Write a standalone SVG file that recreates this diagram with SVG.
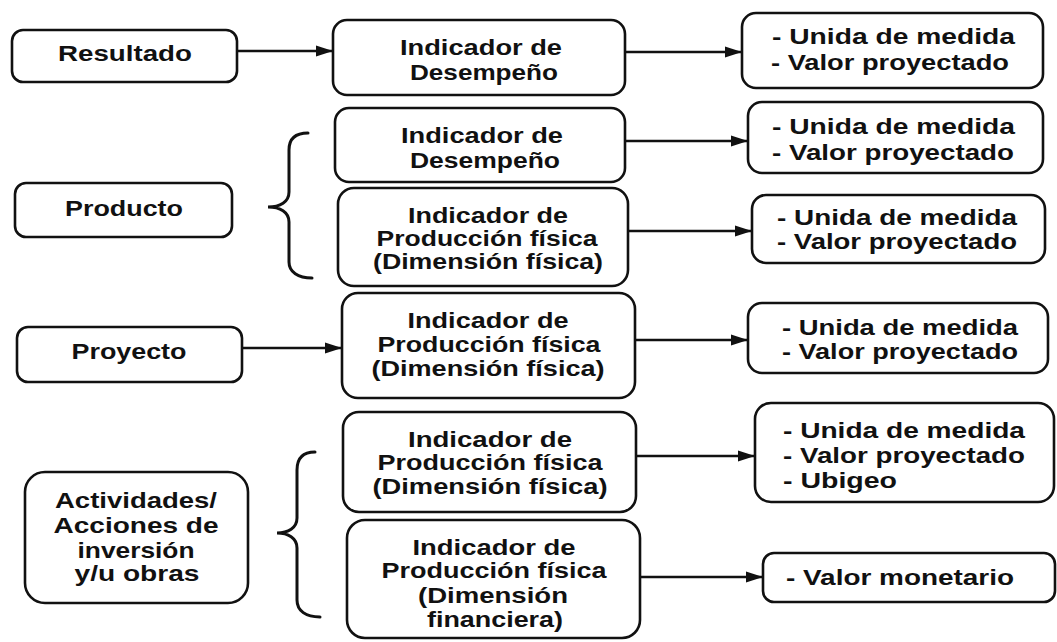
<svg xmlns="http://www.w3.org/2000/svg" width="1057" height="642" viewBox="0 0 1057 642">
<style>
.box{fill:#fff;stroke:#111;stroke-width:2.6}
.t{font-family:"Liberation Sans",Arial,sans-serif;font-weight:bold;font-size:22px;fill:#111}
.c{text-anchor:middle}
.ln{stroke:#111;stroke-width:2.4;fill:none}
.br{stroke:#111;stroke-width:3;fill:none;stroke-linecap:round}
</style>
<defs>
<marker id="ah" markerUnits="userSpaceOnUse" markerWidth="18" markerHeight="13" refX="17" refY="6.5" orient="auto">
<path d="M0,1 L17,6.5 L0,12 Z" fill="#111"/>
</marker>
</defs>
<rect width="1057" height="642" fill="#fff"/>

<g id="connectors">
<line class="ln" x1="237" y1="51" x2="333" y2="51" marker-end="url(#ah)"/>
<line class="ln" x1="625" y1="52" x2="742" y2="52" marker-end="url(#ah)"/>
<line class="ln" x1="625" y1="141" x2="748" y2="141" marker-end="url(#ah)"/>
<line class="ln" x1="628" y1="231" x2="752" y2="231" marker-end="url(#ah)"/>
<line class="ln" x1="242" y1="348" x2="342" y2="348" marker-end="url(#ah)"/>
<line class="ln" x1="635" y1="340" x2="748" y2="340" marker-end="url(#ah)"/>
<line class="ln" x1="636" y1="456" x2="755" y2="456" marker-end="url(#ah)"/>
<line class="ln" x1="640" y1="577" x2="763" y2="577" marker-end="url(#ah)"/>
<path class="br" d="M308,133 C296,133 289,138 289,150 L289,192 C289,202 280,207 268,207 C280,207 289,212 289,222 L289,262 C289,272 298,278 312,278"/>
<path class="br" d="M315,452 C303,452 297,458 297,470 L297,518 C297,528 288,533 277,533 C288,533 297,538 297,548 L297,600 C297,611 306,617 320,617"/>
</g>

<g id="resultado">
<rect class="box" x="12" y="30" width="225" height="52" rx="11"/>
<text class="t c" x="125" y="61" textLength="134" lengthAdjust="spacingAndGlyphs">Resultado</text>
</g>
<g id="producto">
<rect class="box" x="15" y="183" width="217" height="54" rx="11"/>
<text class="t c" x="124" y="216" textLength="118" lengthAdjust="spacingAndGlyphs">Producto</text>
</g>
<g id="proyecto">
<rect class="box" x="17" y="327" width="225" height="55" rx="11"/>
<text class="t c" x="129" y="359" textLength="115" lengthAdjust="spacingAndGlyphs">Proyecto</text>
</g>
<g id="actividades">
<rect class="box" x="25" y="472" width="223" height="131" rx="20"/>
<text class="t c" x="136" y="508" textLength="162" lengthAdjust="spacingAndGlyphs">Actividades/</text>
<text class="t c" x="136" y="533" textLength="165" lengthAdjust="spacingAndGlyphs">Acciones de</text>
<text class="t c" x="136" y="558" textLength="117" lengthAdjust="spacingAndGlyphs">inversión</text>
<text class="t c" x="137" y="581" textLength="125" lengthAdjust="spacingAndGlyphs">y/u obras</text>
</g>

<g id="ind1">
<rect class="box" x="333" y="20" width="292" height="75" rx="14"/>
<text class="t c" x="481" y="55" textLength="162" lengthAdjust="spacingAndGlyphs">Indicador de</text>
<text class="t c" x="484" y="80" textLength="148" lengthAdjust="spacingAndGlyphs">Desempeño</text>
</g>
<g id="ind2">
<rect class="box" x="335" y="108" width="290" height="74" rx="14"/>
<text class="t c" x="482" y="143" textLength="162" lengthAdjust="spacingAndGlyphs">Indicador de</text>
<text class="t c" x="485" y="168" textLength="150" lengthAdjust="spacingAndGlyphs">Desempeño</text>
</g>
<g id="ind3">
<rect class="box" x="338" y="188" width="290" height="98" rx="16"/>
<text class="t c" x="488" y="223" textLength="160" lengthAdjust="spacingAndGlyphs">Indicador de</text>
<text class="t c" x="487" y="246" textLength="221" lengthAdjust="spacingAndGlyphs">Producción física</text>
<text class="t c" x="488" y="269" textLength="230" lengthAdjust="spacingAndGlyphs">(Dimensión física)</text>
</g>
<g id="ind4">
<rect class="box" x="342" y="293" width="293" height="105" rx="16"/>
<text class="t c" x="488" y="328" textLength="161" lengthAdjust="spacingAndGlyphs">Indicador de</text>
<text class="t c" x="489" y="352" textLength="223" lengthAdjust="spacingAndGlyphs">Producción física</text>
<text class="t c" x="488" y="376" textLength="233" lengthAdjust="spacingAndGlyphs">(Dimensión física)</text>
</g>
<g id="ind5">
<rect class="box" x="343" y="412" width="293" height="100" rx="16"/>
<text class="t c" x="490" y="447" textLength="164" lengthAdjust="spacingAndGlyphs">Indicador de</text>
<text class="t c" x="490" y="470" textLength="225" lengthAdjust="spacingAndGlyphs">Producción física</text>
<text class="t c" x="490" y="494" textLength="235" lengthAdjust="spacingAndGlyphs">(Dimensión física)</text>
</g>
<g id="ind6">
<rect class="box" x="347" y="520" width="293" height="118" rx="18"/>
<text class="t c" x="494" y="555" textLength="163" lengthAdjust="spacingAndGlyphs">Indicador de</text>
<text class="t c" x="494" y="578" textLength="225" lengthAdjust="spacingAndGlyphs">Producción física</text>
<text class="t c" x="493" y="603" textLength="150" lengthAdjust="spacingAndGlyphs">(Dimensión</text>
<text class="t c" x="495" y="627" textLength="136" lengthAdjust="spacingAndGlyphs">financiera)</text>
</g>

<g id="res1">
<rect class="box" x="742" y="13" width="301" height="75" rx="14"/>
<text class="t" x="772" y="44" textLength="243" lengthAdjust="spacingAndGlyphs">- Unida de medida</text>
<text class="t" x="771" y="70" textLength="238" lengthAdjust="spacingAndGlyphs">- Valor proyectado</text>
</g>
<g id="res2">
<rect class="box" x="748" y="102" width="295" height="71" rx="14"/>
<text class="t" x="772" y="134" textLength="243" lengthAdjust="spacingAndGlyphs">- Unida de medida</text>
<text class="t" x="772" y="160" textLength="242" lengthAdjust="spacingAndGlyphs">- Valor proyectado</text>
</g>
<g id="res3">
<rect class="box" x="752" y="195" width="293" height="68" rx="14"/>
<text class="t" x="777" y="225" textLength="240" lengthAdjust="spacingAndGlyphs">- Unida de medida</text>
<text class="t" x="777" y="249" textLength="240" lengthAdjust="spacingAndGlyphs">- Valor proyectado</text>
</g>
<g id="res4">
<rect class="box" x="748" y="303" width="300" height="70" rx="14"/>
<text class="t" x="782" y="335" textLength="236" lengthAdjust="spacingAndGlyphs">- Unida de medida</text>
<text class="t" x="782" y="359" textLength="236" lengthAdjust="spacingAndGlyphs">- Valor proyectado</text>
</g>
<g id="res5">
<rect class="box" x="755" y="403" width="299" height="99" rx="16"/>
<text class="t" x="783" y="438" textLength="242" lengthAdjust="spacingAndGlyphs">- Unida de medida</text>
<text class="t" x="783" y="463" textLength="242" lengthAdjust="spacingAndGlyphs">- Valor proyectado</text>
<text class="t" x="783" y="488" textLength="114" lengthAdjust="spacingAndGlyphs">- Ubigeo</text>
</g>
<g id="res6">
<rect class="box" x="763" y="553" width="292" height="49" rx="11"/>
<text class="t" x="786" y="585" textLength="228" lengthAdjust="spacingAndGlyphs">- Valor monetario</text>
</g>
</svg>
